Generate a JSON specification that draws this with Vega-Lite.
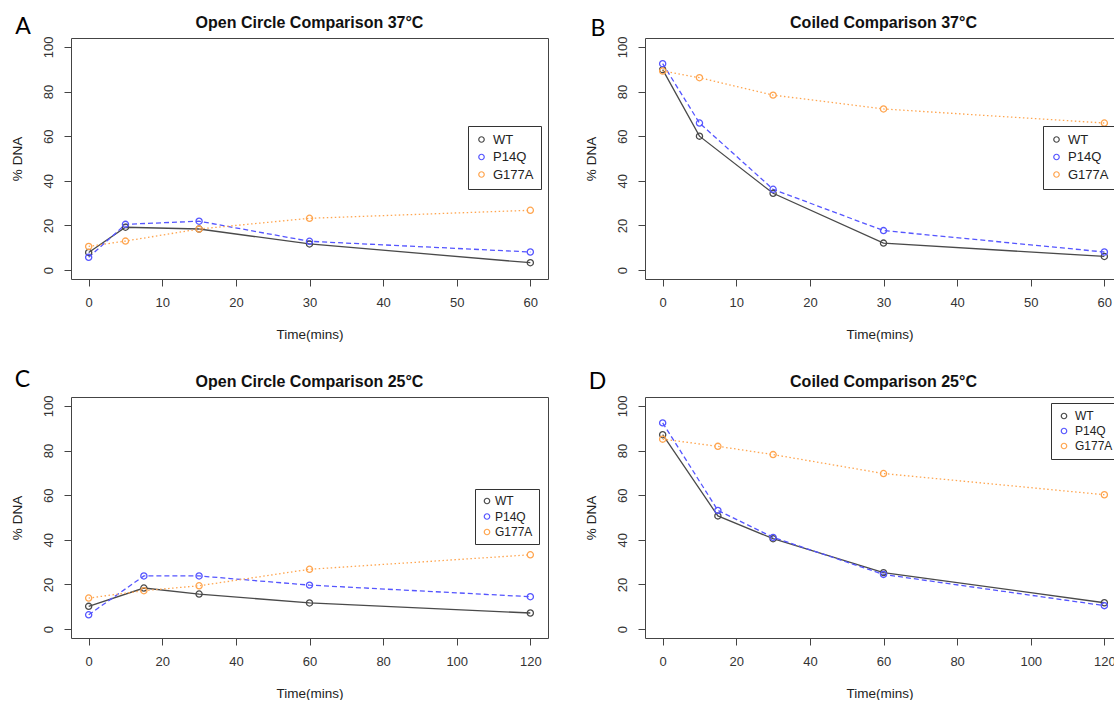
{
  "$schema": "https://vega.github.io/schema/vega-lite/v6.json",
  "padding": {"left": 9, "top": 14, "right": 0, "bottom": 0},
  "autosize": {"type": "pad"},
  "background": "white",
  "datasets": {
    "d": [
      {"panel": "A", "strain": "WT", "time": 0, "pct": 7.9},
      {"panel": "A", "strain": "WT", "time": 5, "pct": 19.2},
      {"panel": "A", "strain": "WT", "time": 15, "pct": 18.4},
      {"panel": "A", "strain": "WT", "time": 30, "pct": 11.7},
      {"panel": "A", "strain": "WT", "time": 60, "pct": 3.3},
      {"panel": "A", "strain": "P14Q", "time": 0, "pct": 5.7},
      {"panel": "A", "strain": "P14Q", "time": 5, "pct": 20.5},
      {"panel": "A", "strain": "P14Q", "time": 15, "pct": 21.9},
      {"panel": "A", "strain": "P14Q", "time": 30, "pct": 12.9},
      {"panel": "A", "strain": "P14Q", "time": 60, "pct": 8.1},
      {"panel": "A", "strain": "G177A", "time": 0, "pct": 10.6},
      {"panel": "A", "strain": "G177A", "time": 5, "pct": 13.0},
      {"panel": "A", "strain": "G177A", "time": 15, "pct": 18.4},
      {"panel": "A", "strain": "G177A", "time": 30, "pct": 23.2},
      {"panel": "A", "strain": "G177A", "time": 60, "pct": 26.8},
      {"panel": "B", "strain": "WT", "time": 0, "pct": 89.8},
      {"panel": "B", "strain": "WT", "time": 5, "pct": 60.0},
      {"panel": "B", "strain": "WT", "time": 15, "pct": 34.4},
      {"panel": "B", "strain": "WT", "time": 30, "pct": 12.1},
      {"panel": "B", "strain": "WT", "time": 60, "pct": 6.1},
      {"panel": "B", "strain": "P14Q", "time": 0, "pct": 92.5},
      {"panel": "B", "strain": "P14Q", "time": 5, "pct": 65.9},
      {"panel": "B", "strain": "P14Q", "time": 15, "pct": 36.2},
      {"panel": "B", "strain": "P14Q", "time": 30, "pct": 17.7},
      {"panel": "B", "strain": "P14Q", "time": 60, "pct": 8.1},
      {"panel": "B", "strain": "G177A", "time": 0, "pct": 89.2},
      {"panel": "B", "strain": "G177A", "time": 5, "pct": 86.2},
      {"panel": "B", "strain": "G177A", "time": 15, "pct": 78.4},
      {"panel": "B", "strain": "G177A", "time": 30, "pct": 72.2},
      {"panel": "B", "strain": "G177A", "time": 60, "pct": 65.9},
      {"panel": "C", "strain": "WT", "time": 0, "pct": 10.2},
      {"panel": "C", "strain": "WT", "time": 15, "pct": 18.4},
      {"panel": "C", "strain": "WT", "time": 30, "pct": 15.7},
      {"panel": "C", "strain": "WT", "time": 60, "pct": 11.7},
      {"panel": "C", "strain": "WT", "time": 120, "pct": 7.2},
      {"panel": "C", "strain": "P14Q", "time": 0, "pct": 6.4},
      {"panel": "C", "strain": "P14Q", "time": 15, "pct": 23.8},
      {"panel": "C", "strain": "P14Q", "time": 30, "pct": 23.8},
      {"panel": "C", "strain": "P14Q", "time": 60, "pct": 19.7},
      {"panel": "C", "strain": "P14Q", "time": 120, "pct": 14.5},
      {"panel": "C", "strain": "G177A", "time": 0, "pct": 13.9},
      {"panel": "C", "strain": "G177A", "time": 15, "pct": 17.2},
      {"panel": "C", "strain": "G177A", "time": 30, "pct": 19.4},
      {"panel": "C", "strain": "G177A", "time": 60, "pct": 26.8},
      {"panel": "C", "strain": "G177A", "time": 120, "pct": 33.3},
      {"panel": "D", "strain": "WT", "time": 0, "pct": 87.1},
      {"panel": "D", "strain": "WT", "time": 15, "pct": 50.7},
      {"panel": "D", "strain": "WT", "time": 30, "pct": 40.5},
      {"panel": "D", "strain": "WT", "time": 60, "pct": 25.3},
      {"panel": "D", "strain": "WT", "time": 120, "pct": 11.8},
      {"panel": "D", "strain": "P14Q", "time": 0, "pct": 92.4},
      {"panel": "D", "strain": "P14Q", "time": 15, "pct": 53.2},
      {"panel": "D", "strain": "P14Q", "time": 30, "pct": 41.1},
      {"panel": "D", "strain": "P14Q", "time": 60, "pct": 24.5},
      {"panel": "D", "strain": "P14Q", "time": 120, "pct": 10.5},
      {"panel": "D", "strain": "G177A", "time": 0, "pct": 85.1},
      {"panel": "D", "strain": "G177A", "time": 15, "pct": 81.9},
      {"panel": "D", "strain": "G177A", "time": 30, "pct": 78.2},
      {"panel": "D", "strain": "G177A", "time": 60, "pct": 69.7},
      {"panel": "D", "strain": "G177A", "time": 120, "pct": 60.2}
    ]
  },
  "columns": 2,
  "bounds": "flush",
  "spacing": {"column": 97, "row": 118},
  "resolve": {
    "scale": {"color": "independent", "x": "independent", "y": "independent"},
    "legend": {"color": "independent"}
  },
  "concat": [
    {
      "width": 477, "height": 241,
      "title": {"text": "Open Circle Comparison 37°C", "offset": -14.4},
      "layer": [
        {
          "data": {"name": "d"},
          "transform": [{"filter": "datum.panel === 'A' && datum.strain === 'WT'"}],
          "mark": {"type": "line", "strokeWidth": 1.3, "color": "#4a4a4a"},
          "encoding": {
            "x": {"field": "time", "type": "quantitative", "title": "Time(mins)", "scale": {"domain": [-2.4, 62.4], "nice": false, "zero": false}, "axis": {"values": [0, 10, 20, 30, 40, 50, 60]}},
            "y": {"field": "pct", "type": "quantitative", "title": "% DNA", "scale": {"domain": [-4, 104], "nice": false, "zero": false}, "axis": {"values": [0, 20, 40, 60, 80, 100]}}
          }
        },
        {
          "data": {"name": "d"},
          "transform": [{"filter": "datum.panel === 'A' && datum.strain === 'P14Q'"}],
          "mark": {"type": "line", "strokeWidth": 1.3, "color": "#5555ff", "strokeDash": [5, 3]},
          "encoding": {
            "x": {"field": "time", "type": "quantitative", "title": "Time(mins)"},
            "y": {"field": "pct", "type": "quantitative", "title": "% DNA"}
          }
        },
        {
          "data": {"name": "d"},
          "transform": [{"filter": "datum.panel === 'A' && datum.strain === 'G177A'"}],
          "mark": {"type": "line", "strokeWidth": 1.3, "color": "#ffa54f", "strokeDash": [1.5, 2.5]},
          "encoding": {
            "x": {"field": "time", "type": "quantitative", "title": "Time(mins)"},
            "y": {"field": "pct", "type": "quantitative", "title": "% DNA"}
          }
        },
        {
          "data": {"name": "d"},
          "transform": [{"filter": "datum.panel === 'A'"}],
          "mark": {"type": "point", "filled": false, "size": 38, "strokeWidth": 1.3, "opacity": 1},
          "encoding": {
            "x": {"field": "time", "type": "quantitative", "title": "Time(mins)"},
            "y": {"field": "pct", "type": "quantitative", "title": "% DNA"},
            "color": {"field": "strain", "type": "nominal", "scale": {"domain": ["WT", "P14Q", "G177A"], "range": ["#4a4a4a", "#5555ff", "#ffa54f"]}, "legend": {"title": null, "orient": "none", "legendX": 397, "legendY": 88}}
          }
        },
        {
          "data": {"values": [{"letter": "A"}]},
          "mark": {"type": "text", "font": "Lato", "fontSize": 23, "align": "center", "baseline": "middle", "color": "#000"},
          "encoding": {
            "text": {"field": "letter"},
            "x": {"datum": -8.9, "type": "quantitative", "title": "Time(mins)"},
            "y": {"datum": 108.75, "type": "quantitative", "title": "% DNA"}
          }
        }
      ]
    },
    {
      "width": 469, "height": 241,
      "title": {"text": "Coiled Comparison 37°C", "dx": 4, "offset": -12.5},
      "layer": [
        {
          "data": {"name": "d"},
          "transform": [{"filter": "datum.panel === 'B' && datum.strain === 'WT'"}],
          "mark": {"type": "line", "strokeWidth": 1.3, "color": "#4a4a4a"},
          "encoding": {
            "x": {"field": "time", "type": "quantitative", "title": "Time(mins)", "scale": {"domain": [-2.4, 61.31], "nice": false, "zero": false}, "axis": {"values": [0, 10, 20, 30, 40, 50, 60]}},
            "y": {"field": "pct", "type": "quantitative", "title": "% DNA", "scale": {"domain": [-4, 104], "nice": false, "zero": false}, "axis": {"values": [0, 20, 40, 60, 80, 100]}}
          }
        },
        {
          "data": {"name": "d"},
          "transform": [{"filter": "datum.panel === 'B' && datum.strain === 'P14Q'"}],
          "mark": {"type": "line", "strokeWidth": 1.3, "color": "#5555ff", "strokeDash": [5, 3]},
          "encoding": {
            "x": {"field": "time", "type": "quantitative", "title": "Time(mins)"},
            "y": {"field": "pct", "type": "quantitative", "title": "% DNA"}
          }
        },
        {
          "data": {"name": "d"},
          "transform": [{"filter": "datum.panel === 'B' && datum.strain === 'G177A'"}],
          "mark": {"type": "line", "strokeWidth": 1.3, "color": "#ffa54f", "strokeDash": [1.5, 2.5]},
          "encoding": {
            "x": {"field": "time", "type": "quantitative", "title": "Time(mins)"},
            "y": {"field": "pct", "type": "quantitative", "title": "% DNA"}
          }
        },
        {
          "data": {"name": "d"},
          "transform": [{"filter": "datum.panel === 'B'"}],
          "mark": {"type": "point", "filled": false, "size": 38, "strokeWidth": 1.3, "opacity": 1},
          "encoding": {
            "x": {"field": "time", "type": "quantitative", "title": "Time(mins)"},
            "y": {"field": "pct", "type": "quantitative", "title": "% DNA"},
            "color": {"field": "strain", "type": "nominal", "scale": {"domain": ["WT", "P14Q", "G177A"], "range": ["#4a4a4a", "#5555ff", "#ffa54f"]}, "legend": {"title": null, "orient": "none", "legendX": 398, "legendY": 88}}
          }
        },
        {
          "data": {"values": [{"letter": "B"}]},
          "mark": {"type": "text", "font": "Lato", "fontSize": 23, "align": "center", "baseline": "middle", "color": "#000"},
          "encoding": {
            "text": {"field": "letter"},
            "x": {"datum": -8.78, "type": "quantitative", "title": "Time(mins)"},
            "y": {"datum": 107.94, "type": "quantitative", "title": "% DNA"}
          }
        }
      ]
    },
    {
      "width": 477, "height": 241,
      "title": {"text": "Open Circle Comparison 25°C", "offset": -21.6},
      "layer": [
        {
          "data": {"name": "d"},
          "transform": [{"filter": "datum.panel === 'C' && datum.strain === 'WT'"}],
          "mark": {"type": "line", "strokeWidth": 1.3, "color": "#4a4a4a"},
          "encoding": {
            "x": {"field": "time", "type": "quantitative", "title": "Time(mins)", "scale": {"domain": [-4.8, 124.8], "nice": false, "zero": false}, "axis": {"values": [0, 20, 40, 60, 80, 100, 120]}},
            "y": {"field": "pct", "type": "quantitative", "title": "% DNA", "scale": {"domain": [-4, 104], "nice": false, "zero": false}, "axis": {"values": [0, 20, 40, 60, 80, 100]}}
          }
        },
        {
          "data": {"name": "d"},
          "transform": [{"filter": "datum.panel === 'C' && datum.strain === 'P14Q'"}],
          "mark": {"type": "line", "strokeWidth": 1.3, "color": "#5555ff", "strokeDash": [5, 3]},
          "encoding": {
            "x": {"field": "time", "type": "quantitative", "title": "Time(mins)"},
            "y": {"field": "pct", "type": "quantitative", "title": "% DNA"}
          }
        },
        {
          "data": {"name": "d"},
          "transform": [{"filter": "datum.panel === 'C' && datum.strain === 'G177A'"}],
          "mark": {"type": "line", "strokeWidth": 1.3, "color": "#ffa54f", "strokeDash": [1.5, 2.5]},
          "encoding": {
            "x": {"field": "time", "type": "quantitative", "title": "Time(mins)"},
            "y": {"field": "pct", "type": "quantitative", "title": "% DNA"}
          }
        },
        {
          "data": {"name": "d"},
          "transform": [{"filter": "datum.panel === 'C'"}],
          "mark": {"type": "point", "filled": false, "size": 38, "strokeWidth": 1.3, "opacity": 1},
          "encoding": {
            "x": {"field": "time", "type": "quantitative", "title": "Time(mins)"},
            "y": {"field": "pct", "type": "quantitative", "title": "% DNA"},
            "color": {"field": "strain", "type": "nominal", "scale": {"domain": ["WT", "P14Q", "G177A"], "range": ["#4a4a4a", "#5555ff", "#ffa54f"]}, "legend": {"title": null, "orient": "none", "legendX": 404, "legendY": 92, "labelFontSize": 12, "rowPadding": 3.5, "padding": 6, "labelOffset": 2}}
          }
        },
        {
          "data": {"values": [{"letter": "C"}]},
          "mark": {"type": "text", "font": "Lato", "fontSize": 23, "align": "center", "baseline": "middle", "color": "#000"},
          "encoding": {
            "text": {"field": "letter"},
            "x": {"datum": -17.98, "type": "quantitative", "title": "Time(mins)"},
            "y": {"datum": 111.75, "type": "quantitative", "title": "% DNA"}
          }
        }
      ]
    },
    {
      "width": 469, "height": 241,
      "title": {"text": "Coiled Comparison 25°C", "dx": 4, "offset": -19.6},
      "layer": [
        {
          "data": {"name": "d"},
          "transform": [{"filter": "datum.panel === 'D' && datum.strain === 'WT'"}],
          "mark": {"type": "line", "strokeWidth": 1.3, "color": "#4a4a4a"},
          "encoding": {
            "x": {"field": "time", "type": "quantitative", "title": "Time(mins)", "scale": {"domain": [-4.8, 122.62], "nice": false, "zero": false}, "axis": {"values": [0, 20, 40, 60, 80, 100, 120]}},
            "y": {"field": "pct", "type": "quantitative", "title": "% DNA", "scale": {"domain": [-4, 104], "nice": false, "zero": false}, "axis": {"values": [0, 20, 40, 60, 80, 100]}}
          }
        },
        {
          "data": {"name": "d"},
          "transform": [{"filter": "datum.panel === 'D' && datum.strain === 'P14Q'"}],
          "mark": {"type": "line", "strokeWidth": 1.3, "color": "#5555ff", "strokeDash": [5, 3]},
          "encoding": {
            "x": {"field": "time", "type": "quantitative", "title": "Time(mins)"},
            "y": {"field": "pct", "type": "quantitative", "title": "% DNA"}
          }
        },
        {
          "data": {"name": "d"},
          "transform": [{"filter": "datum.panel === 'D' && datum.strain === 'G177A'"}],
          "mark": {"type": "line", "strokeWidth": 1.3, "color": "#ffa54f", "strokeDash": [1.5, 2.5]},
          "encoding": {
            "x": {"field": "time", "type": "quantitative", "title": "Time(mins)"},
            "y": {"field": "pct", "type": "quantitative", "title": "% DNA"}
          }
        },
        {
          "data": {"name": "d"},
          "transform": [{"filter": "datum.panel === 'D'"}],
          "mark": {"type": "point", "filled": false, "size": 38, "strokeWidth": 1.3, "opacity": 1},
          "encoding": {
            "x": {"field": "time", "type": "quantitative", "title": "Time(mins)"},
            "y": {"field": "pct", "type": "quantitative", "title": "% DNA"},
            "color": {"field": "strain", "type": "nominal", "scale": {"domain": ["WT", "P14Q", "G177A"], "range": ["#4a4a4a", "#5555ff", "#ffa54f"]}, "legend": {"title": null, "orient": "none", "legendX": 406, "legendY": 6, "labelFontSize": 12, "rowPadding": 3, "padding": 7}}
          }
        },
        {
          "data": {"values": [{"letter": "D"}]},
          "mark": {"type": "text", "font": "Lato", "fontSize": 23, "align": "center", "baseline": "middle", "color": "#000"},
          "encoding": {
            "text": {"field": "letter"},
            "x": {"datum": -17.7, "type": "quantitative", "title": "Time(mins)"},
            "y": {"datum": 110.85, "type": "quantitative", "title": "% DNA"}
          }
        }
      ]
    }
  ],
  "config": {
    "font": "Liberation Sans",
    "view": {"stroke": "#444444", "strokeWidth": 1},
    "axis": {
      "grid": false, "domain": false, "tickColor": "#444444", "tickSize": 7, "tickWidth": 1,
      "labelFont": "Liberation Sans", "labelFontSize": 13, "labelColor": "#333333", "labelFlush": false, "labelOverlap": false,
      "titleFont": "Liberation Sans", "titleFontSize": 13.5, "titleFontWeight": "normal", "titleColor": "#222222"
    },
    "axisX": {"labelPadding": 10, "titleY": 55, "titleBaseline": "middle"},
    "axisY": {"labelAngle": -90, "labelAlign": "center", "labelBaseline": "bottom", "labelPadding": 9, "titleX": -54, "titleY": 120.5, "titleAngle": -90, "titleAlign": "center", "titleBaseline": "middle"},
    "title": {"font": "Liberation Sans", "fontSize": 16, "fontWeight": "bold", "color": "#111111", "frame": "group", "anchor": "middle", "baseline": "alphabetic"},
    "legend": {
      "strokeColor": "#333333", "fillColor": "white", "padding": 7, "symbolType": "circle", "symbolSize": 30, "symbolStrokeWidth": 1.2,
      "symbolFillColor": "transparent", "labelFont": "Liberation Sans", "labelFontSize": 13, "labelColor": "#222222", "rowPadding": 3.5, "labelOffset": 5, "symbolOpacity": 1
    }
  }
}
